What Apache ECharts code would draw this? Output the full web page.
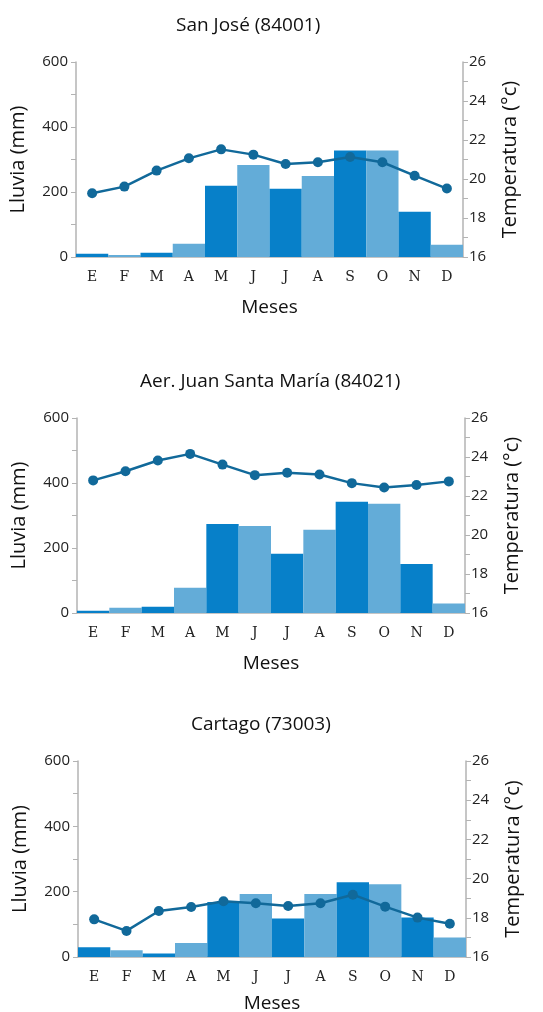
<!DOCTYPE html>
<html>
<head>
<meta charset="utf-8">
<script src="https://cdn.jsdelivr.net/npm/echarts@6/dist/echarts.min.js"></script>
<style>
  html, body { margin: 0; padding: 0; background: #fff; }
  #chart { width: 543px; height: 1012px; }
</style>
</head>
<body>
<div id="chart"></div>
<script>
// meses
var months = ['E', 'F', 'M', 'A', 'M', 'J', 'J', 'A', 'S', 'O', 'N', 'D'];

// San José (84001)
var rainSanJose = [10, 6, 13, 41, 219, 283, 210, 249, 328, 328, 139, 38];
var tempSanJose = [19.27, 19.61, 20.43, 21.06, 21.52, 21.25, 20.77, 20.86, 21.13, 20.86, 20.17, 19.51];

// Aer. Juan Santa María (84021)
var rainJuanSantamaria = [7, 16, 19, 78, 274, 268, 182, 256, 342, 336, 151, 29];
var tempJuanSantamaria = [22.80, 23.27, 23.82, 24.16, 23.61, 23.07, 23.19, 23.10, 22.66, 22.44, 22.56, 22.75];

// Cartago (73003)
var rainCartago = [30, 21, 11, 43, 168, 193, 118, 193, 229, 223, 121, 60];
var tempCartago = [17.92, 17.33, 18.35, 18.55, 18.84, 18.74, 18.60, 18.74, 19.18, 18.57, 18.01, 17.70];

var titles = ['San José (84001)', 'Aer. Juan Santa María (84021)', 'Cartago (73003)'];
var rains = [rainSanJose, rainJuanSantamaria, rainCartago];
var temps = [tempSanJose, tempJuanSantamaria, tempCartago];

var darkBar = '#0780c9';
var lightBar = '#63acd8';
var lineColor = '#11699a';
var axisGray = '#b3b3b3';
var font = 'Open Sans';

var grids = [
  { top: 62, height: 195, left: 76, right: 80 },
  { top: 418, height: 195, left: 77, right: 78 },
  { top: 761, height: 196, left: 78, right: 77 }
];
var titlePos = [
  { left: 171, top: 11 },
  { left: 135, top: 367 },
  { left: 186, top: 710 }
];
var mesesGap = [41, 41, 37];

var option = {
  animation: false,
  title: [],
  grid: [],
  xAxis: [],
  yAxis: [],
  series: []
};

for (var i = 0; i < 3; i++) {
  option.title.push({
    text: titles[i],
    left: titlePos[i].left,
    top: titlePos[i].top,
    textStyle: { fontFamily: font, fontSize: 19, fontWeight: 'normal', color: '#111' }
  });
  option.grid.push(Object.assign({ outerBoundsMode: 'none', containLabel: false }, grids[i]));
  option.xAxis.push({
    type: 'category',
    gridIndex: i,
    data: months,
    name: 'Meses',
    nameLocation: 'middle',
    nameGap: mesesGap[i],
    nameTextStyle: { fontFamily: font, fontSize: 19, color: '#111' },
    axisLine: { lineStyle: { color: axisGray, width: 1.5 } },
    axisTick: { alignWithLabel: false, length: 5, lineStyle: { color: axisGray } },
    axisLabel: { fontFamily: 'DejaVu Serif', fontSize: 14, color: '#222', margin: 13 }
  });
  option.yAxis.push({
    type: 'value',
    gridIndex: i,
    position: 'left',
    min: 0,
    max: 600,
    interval: 100,
    name: 'Lluvia (mm)',
    nameLocation: 'middle',
    nameGap: 48,
    nameTextStyle: { fontFamily: font, fontSize: 20, color: '#111' },
    splitLine: { show: false },
    axisLine: { show: true, lineStyle: { color: axisGray, width: 1.5 } },
    axisTick: { show: true, length: 5, lineStyle: { color: axisGray } },
    axisLabel: {
      fontFamily: font, fontSize: 15, color: '#222', margin: 8,
      formatter: function (v) { return v % 200 === 0 ? v : ''; }
    }
  });
  option.yAxis.push({
    type: 'value',
    gridIndex: i,
    position: 'right',
    min: 16,
    max: 26,
    interval: 1,
    name: 'Temperatura (°c)',
    nameLocation: 'middle',
    nameGap: 37,
    nameTextStyle: { fontFamily: font, fontSize: 20, color: '#111' },
    splitLine: { show: false },
    axisLine: { show: true, lineStyle: { color: axisGray, width: 1.5 } },
    axisTick: { show: true, length: 5, lineStyle: { color: axisGray } },
    axisLabel: {
      fontFamily: font, fontSize: 15, color: '#222', margin: 6,
      formatter: function (v) { return v % 2 === 0 ? v : ''; }
    }
  });
  option.series.push({
    type: 'bar',
    xAxisIndex: i,
    yAxisIndex: i * 2,
    barCategoryGap: '0%',
    data: rains[i],
    itemStyle: {
      color: function (p) { return p.dataIndex % 2 === 0 ? darkBar : lightBar; }
    }
  });
  option.series.push({
    type: 'line',
    xAxisIndex: i,
    yAxisIndex: i * 2 + 1,
    data: temps[i],
    symbol: 'circle',
    symbolSize: 10,
    lineStyle: { color: lineColor, width: 2.5 },
    itemStyle: { color: lineColor }
  });
}

var chart = echarts.init(document.getElementById('chart'));
chart.setOption(option);
</script>
</body>
</html>
